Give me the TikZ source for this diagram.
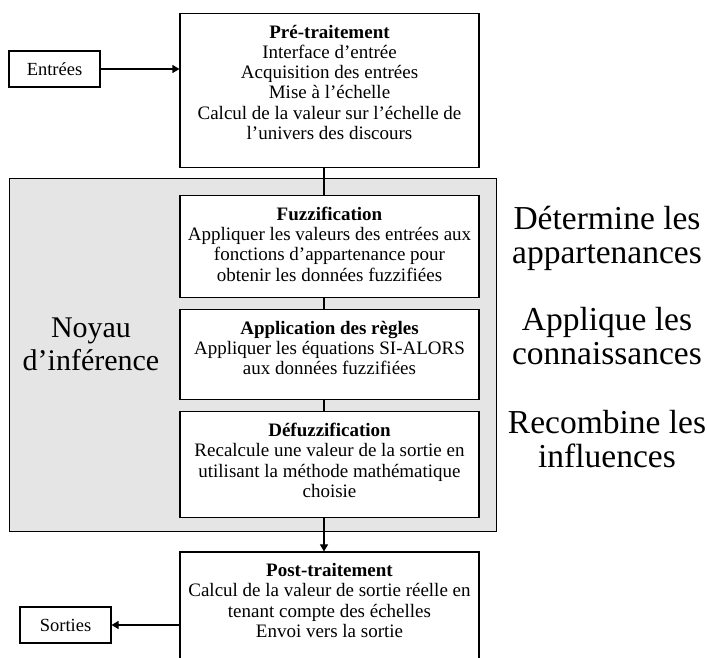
\documentclass[tikz,border=0pt]{standalone}
\usepackage{fontspec}
\setmainfont{Liberation Serif}
\usetikzlibrary{arrows.meta,positioning}

\tikzset{
  boite/.style={draw, line width=1.1pt, fill=white, inner sep=0pt, minimum width=299pt},
  petite/.style={draw, line width=1.1pt, fill=white, inner sep=0pt, minimum width=91pt, minimum height=36pt, font=\fontsize{18.5}{20}\selectfont},
  texte/.style={inner sep=0pt, align=center, font=\fontsize{19}{20.2}\selectfont},
  grand/.style={inner sep=0pt, align=center, font=\fontsize{30}{33}\selectfont},
  marge/.style={inner sep=0pt, align=center, font=\fontsize{33.5}{34}\selectfont},
  trait/.style={line width=1.1pt},
  fleche/.style={line width=1.1pt, -{Triangle[length=7pt,width=8pt]}},
}

\begin{document}
\begin{tikzpicture}[x=1pt,y=-1pt]
        % Étape 1 : taille de la figure
        \useasboundingbox (0,0) rectangle (707,657);

        % Étape 2 : le noyau d'inférence (fond gris)
        \node[draw, line width=1.1pt, fill=gray!20, minimum width=487pt, minimum height=353pt,
              anchor=north west] (noyau) at (9,178) {};
        \node[grand] (noyautxt) at (91,344) {Noyau\\d’inférence};

        % Étape 3 : les boîtes de traitement
        \node[boite, minimum height=154pt, anchor=north] (pre) at (329.5,13) {};
        \node[boite, minimum height=102pt, below=27pt of pre] (fuzz) {};
        \node[boite, minimum height=90pt, below=11pt of fuzz] (regles) {};
        \node[boite, minimum height=106pt, below=11pt of regles] (defuzz) {};
        \node[boite, minimum height=123pt, below=33pt of defuzz] (post) {};

        % Étape 4 : le texte des boîtes
        \node[texte, below=11pt of pre.north] (pretxt) {\strut\textbf{Pré-traitement}\\
          Interface d’entrée\\Acquisition des entrées\\Mise à l’échelle\\
          Calcul de la valeur sur l’échelle de\\l’univers des discours};
        \node[texte, below=11pt of fuzz.north] (fuzztxt) {\strut\textbf{Fuzzification}\\
          Appliquer les valeurs des entrées aux\\fonctions d’appartenance pour\\
          obtenir les données fuzzifiées};
        \node[texte, below=11pt of regles.north] (reglestxt) {\strut\textbf{Application des règles}\\
          Appliquer les équations SI-ALORS\\aux données fuzzifiées};
        \node[texte, below=11pt of defuzz.north] (defuzztxt) {\strut\textbf{Défuzzification}\\
          Recalcule une valeur de la sortie en\\utilisant la méthode mathématique\\choisie};
        \node[texte, below=11pt of post.north] (posttxt) {\strut\textbf{Post-traitement}\\
          Calcul de la valeur de sortie réelle en\\tenant compte des échelles\\
          Envoi vers la sortie};

        % Étape 5 : entrées et sorties
        \node[petite] (entrees) at (54.5,69) {Entrées};
        \node[petite] (sorties) at (65.5,625) {Sorties};

        % Étape 6 : les liaisons
        \draw[fleche] (entrees) -- (entrees -| pre.west);
        \draw[trait] ([xshift=-5.5pt]pre.south) -- ([xshift=-5.5pt]fuzz.north);
        \draw[trait] ([xshift=-5.5pt]fuzz.south) -- ([xshift=-5.5pt]regles.north);
        \draw[trait] ([xshift=-5.5pt]regles.south) -- ([xshift=-5.5pt]defuzz.north);
        \draw[fleche] ([xshift=-5.5pt]defuzz.south) -- ([xshift=-5.5pt]post.north);
        \draw[fleche] (sorties -| post.west) -- (sorties);

        % Étape 7 : les commentaires à droite
        \node[marge] (appart) at (607,238) {Détermine les\\appartenances};
        \node[marge] (connais) at (607,336) {Applique les\\connaissances};
        \node[marge] (influ) at (607,439) {Recombine les\\influences};
\end{tikzpicture}
\end{document}
